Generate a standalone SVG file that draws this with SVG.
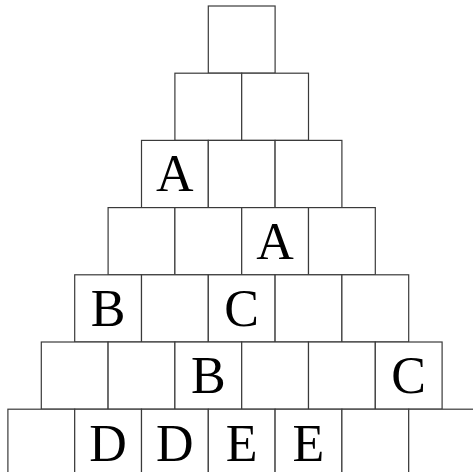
<svg xmlns="http://www.w3.org/2000/svg" width="473" height="472" viewBox="0 0 473 472">
<style>
rect{fill:#fff;stroke:#3a3a3a;stroke-width:1.2}
text{font-family:"Liberation Serif","Times New Roman",serif;font-size:52px;fill:#000;text-anchor:middle}
</style>
<rect x="0" y="0" width="473" height="472" fill="#fff" stroke="none" style="stroke:none"/>
<g id="row0"><g id="n0_0"><rect x="208.3" y="6" width="66.8" height="67.2"/></g></g>
<g id="row1">
<g id="n1_0"><rect x="174.9" y="73.2" width="66.8" height="67.2"/></g>
<g id="n1_1"><rect x="241.7" y="73.2" width="66.8" height="67.2"/></g>
</g>
<g id="row2">
<g id="n2_0"><rect x="141.5" y="140.4" width="66.8" height="67.2"/><text x="174.9" y="191.4">A</text></g>
<g id="n2_1"><rect x="208.3" y="140.4" width="66.8" height="67.2"/></g>
<g id="n2_2"><rect x="275.1" y="140.4" width="66.8" height="67.2"/></g>
</g>
<g id="row3">
<g id="n3_0"><rect x="108.1" y="207.6" width="66.8" height="67.2"/></g>
<g id="n3_1"><rect x="174.9" y="207.6" width="66.8" height="67.2"/></g>
<g id="n3_2"><rect x="241.7" y="207.6" width="66.8" height="67.2"/><text x="275.1" y="258.6">A</text></g>
<g id="n3_3"><rect x="308.5" y="207.6" width="66.8" height="67.2"/></g>
</g>
<g id="row4">
<g id="n4_0"><rect x="74.7" y="274.8" width="66.8" height="67.2"/><text x="108.1" y="325.8">B</text></g>
<g id="n4_1"><rect x="141.5" y="274.8" width="66.8" height="67.2"/></g>
<g id="n4_2"><rect x="208.3" y="274.8" width="66.8" height="67.2"/><text x="241.7" y="325.8">C</text></g>
<g id="n4_3"><rect x="275.1" y="274.8" width="66.8" height="67.2"/></g>
<g id="n4_4"><rect x="341.9" y="274.8" width="66.8" height="67.2"/></g>
</g>
<g id="row5">
<g id="n5_0"><rect x="41.3" y="342" width="66.8" height="67.2"/></g>
<g id="n5_1"><rect x="108.1" y="342" width="66.8" height="67.2"/></g>
<g id="n5_2"><rect x="174.9" y="342" width="66.8" height="67.2"/><text x="208.3" y="393">B</text></g>
<g id="n5_3"><rect x="241.7" y="342" width="66.8" height="67.2"/></g>
<g id="n5_4"><rect x="308.5" y="342" width="66.8" height="67.2"/></g>
<g id="n5_5"><rect x="375.3" y="342" width="66.8" height="67.2"/><text x="408.7" y="393">C</text></g>
</g>
<g id="row6">
<g id="n6_0"><rect x="7.9" y="409.2" width="66.8" height="67.2"/></g>
<g id="n6_1"><rect x="74.7" y="409.2" width="66.8" height="67.2"/><text x="108.1" y="460.8">D</text></g>
<g id="n6_2"><rect x="141.5" y="409.2" width="66.8" height="67.2"/><text x="174.9" y="460.8">D</text></g>
<g id="n6_3"><rect x="208.3" y="409.2" width="66.8" height="67.2"/><text x="241.7" y="460.8">E</text></g>
<g id="n6_4"><rect x="275.1" y="409.2" width="66.8" height="67.2"/><text x="308.5" y="460.8">E</text></g>
<g id="n6_5"><rect x="341.9" y="409.2" width="66.8" height="67.2"/></g>
<g id="n6_6"><rect x="408.7" y="409.2" width="66.8" height="67.2"/></g>
</g>
<g id="connectors"></g>
</svg>
